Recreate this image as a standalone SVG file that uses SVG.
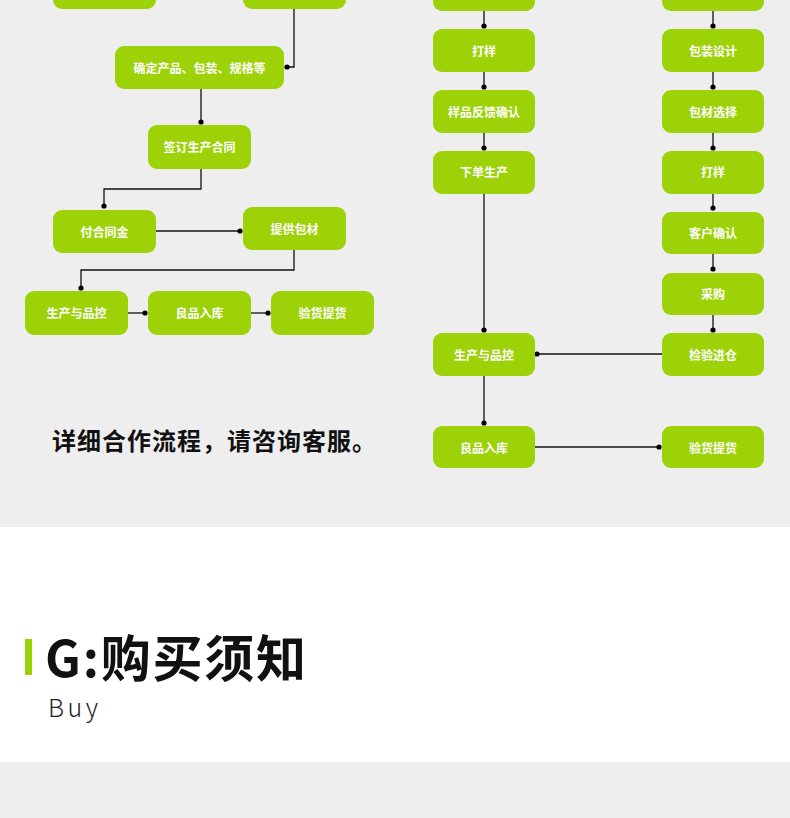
<svg xmlns="http://www.w3.org/2000/svg" width="790" height="818" viewBox="0 0 790 818">
<style>
.n{fill:#9dd208}
.t{fill:#fff;font-family:"Noto Sans CJK SC","Noto Sans",sans-serif;font-weight:bold;font-size:12px;text-anchor:middle;dominant-baseline:central}
.c{stroke:#111;stroke-width:1.3;fill:none}
.d{fill:#000}
</style>
<rect x="0" y="0" width="790" height="527" fill="#eeeeee"/>
<rect x="0" y="527" width="790" height="235" fill="#ffffff"/>
<rect x="0" y="762" width="790" height="56" fill="#eeeeee"/>
<g id="connectors">
<path class="c" d="M294 9V67H287"/>
<path class="c" d="M201 89V122"/>
<path class="c" d="M201 169V189H104V206"/>
<path class="c" d="M156 231H240"/>
<path class="c" d="M294 250V270H81V288"/>
<path class="c" d="M128 313H145"/>
<path class="c" d="M251 313H268"/>
<path class="c" d="M484 11V26M484 72V87M484 133V148M484 194V330M484 376V423"/>
<path class="c" d="M713 11V26M713 72V87M713 133V148M713 194V208M713 254V269M713 315V330"/>
<path class="c" d="M662 354H537"/>
<path class="c" d="M535 447H659"/>
<circle class="d" cx="287" cy="67" r="2.6"/>
<circle class="d" cx="201" cy="122" r="2.6"/>
<circle class="d" cx="104" cy="206" r="2.6"/>
<circle class="d" cx="240" cy="231" r="2.6"/>
<circle class="d" cx="81" cy="288" r="2.6"/>
<circle class="d" cx="145" cy="313" r="2.6"/>
<circle class="d" cx="268" cy="313" r="2.6"/>
<circle class="d" cx="484" cy="26" r="2.6"/>
<circle class="d" cx="484" cy="87" r="2.6"/>
<circle class="d" cx="484" cy="148" r="2.6"/>
<circle class="d" cx="484" cy="330" r="2.6"/>
<circle class="d" cx="484" cy="423" r="2.6"/>
<circle class="d" cx="713" cy="26" r="2.6"/>
<circle class="d" cx="713" cy="87" r="2.6"/>
<circle class="d" cx="713" cy="148" r="2.6"/>
<circle class="d" cx="713" cy="208" r="2.6"/>
<circle class="d" cx="713" cy="269" r="2.6"/>
<circle class="d" cx="713" cy="330" r="2.6"/>
<circle class="d" cx="537" cy="354" r="2.6"/>
<circle class="d" cx="659" cy="447" r="2.6"/>
</g>
<g id="n-top-l1"><rect class="n" x="53" y="-35" width="103" height="44" rx="9"/></g>
<g id="n-top-l2"><rect class="n" x="243" y="-35" width="103" height="44" rx="9"/></g>
<g id="n1"><rect class="n" x="115" y="46" width="169" height="43" rx="9"/><text class="t" x="199.5" y="67.5">确定产品、包装、规格等</text></g>
<g id="n2"><rect class="n" x="148" y="125" width="103" height="44" rx="9"/><text class="t" x="199.5" y="146">签订生产合同</text></g>
<g id="n3"><rect class="n" x="53" y="210" width="103" height="43" rx="9"/><text class="t" x="104.5" y="231">付合同金</text></g>
<g id="n4"><rect class="n" x="243" y="207" width="103" height="43" rx="9"/><text class="t" x="294.5" y="228">提供包材</text></g>
<g id="n5"><rect class="n" x="25" y="291" width="103" height="44" rx="9"/><text class="t" x="76.5" y="312">生产与品控</text></g>
<g id="n6"><rect class="n" x="148" y="291" width="103" height="44" rx="9"/><text class="t" x="199.5" y="312">良品入库</text></g>
<g id="n7"><rect class="n" x="271" y="291" width="103" height="44" rx="9"/><text class="t" x="322.5" y="312">验货提货</text></g>
<g id="n-top-r1"><rect class="n" x="433" y="-33" width="102" height="44" rx="9"/></g>
<g id="n-top-r2"><rect class="n" x="662" y="-33" width="102" height="44" rx="9"/></g>
<g id="r1"><rect class="n" x="433" y="29" width="102" height="43" rx="9"/><text class="t" x="484" y="50">打样</text></g>
<g id="r2"><rect class="n" x="433" y="90" width="102" height="43" rx="9"/><text class="t" x="484" y="111">样品反馈确认</text></g>
<g id="r3"><rect class="n" x="433" y="151" width="102" height="43" rx="9"/><text class="t" x="484" y="171">下单生产</text></g>
<g id="r4"><rect class="n" x="433" y="333" width="102" height="43" rx="9"/><text class="t" x="484" y="354">生产与品控</text></g>
<g id="r5"><rect class="n" x="433" y="426" width="102" height="42" rx="9"/><text class="t" x="484" y="447">良品入库</text></g>
<g id="s1"><rect class="n" x="662" y="29" width="102" height="43" rx="9"/><text class="t" x="713" y="50">包装设计</text></g>
<g id="s2"><rect class="n" x="662" y="90" width="102" height="43" rx="9"/><text class="t" x="713" y="111">包材选择</text></g>
<g id="s3"><rect class="n" x="662" y="151" width="102" height="43" rx="9"/><text class="t" x="713" y="171">打样</text></g>
<g id="s4"><rect class="n" x="662" y="212" width="102" height="42" rx="9"/><text class="t" x="713" y="232">客户确认</text></g>
<g id="s5"><rect class="n" x="662" y="273" width="102" height="42" rx="9"/><text class="t" x="713" y="293">采购</text></g>
<g id="s6"><rect class="n" x="662" y="333" width="102" height="43" rx="9"/><text class="t" x="713" y="354">检验进仓</text></g>
<g id="s7"><rect class="n" x="662" y="426" width="102" height="42" rx="9"/><text class="t" x="713" y="447">验货提货</text></g>
<text x="52" y="450" font-family="Noto Sans CJK SC,sans-serif" font-weight="bold" font-size="24" letter-spacing="1" fill="#111">详细合作流程，请咨询客服。</text>
<rect x="25" y="639" width="7" height="36" fill="#9dd208"/>
<text x="45" y="677" font-family="Noto Sans CJK SC,sans-serif" font-weight="bold" font-size="50" letter-spacing="1.8" fill="#111">G:购买须知</text>
<text x="48" y="717" font-family="Noto Sans CJK SC,sans-serif" font-weight="300" font-size="25" letter-spacing="3.5" fill="#222">Buy</text>
</svg>
